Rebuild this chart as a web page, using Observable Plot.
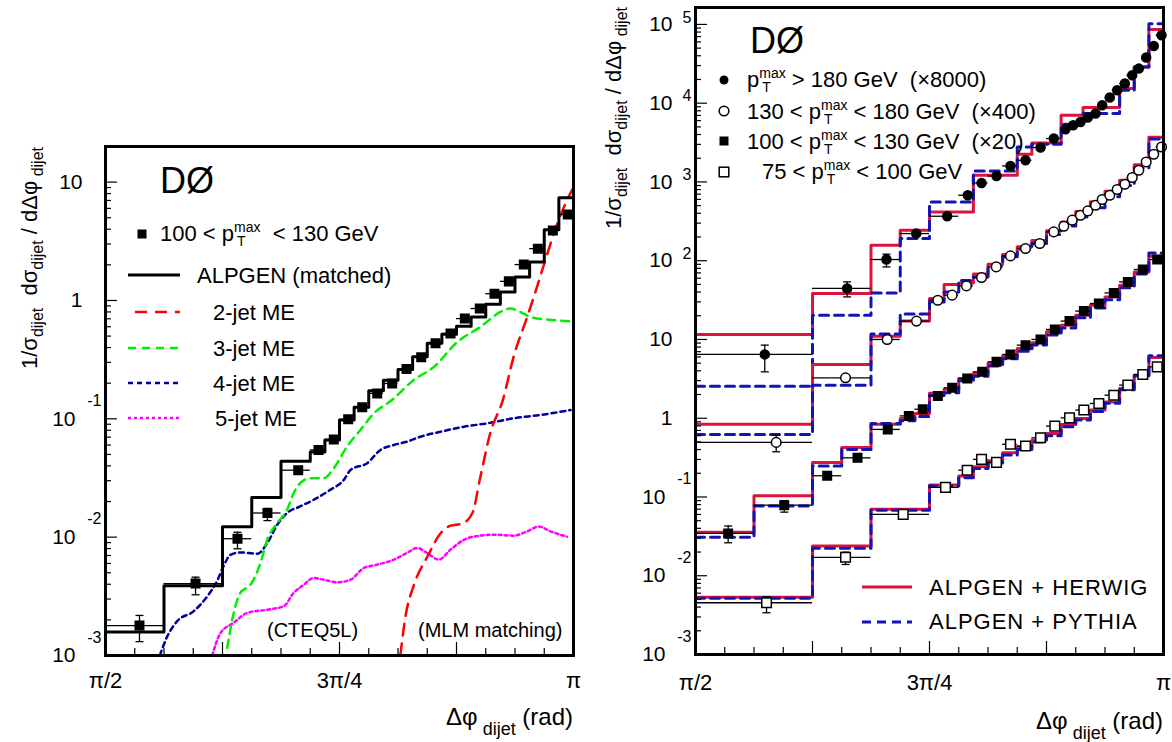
<!DOCTYPE html>
<html>
<head>
<meta charset="utf-8">
<script src="https://cdn.jsdelivr.net/npm/d3@7"></script>
<script src="https://cdn.jsdelivr.net/npm/@observablehq/plot@0.6"></script>
<style>
  body { margin: 0; background: #fff; }
  #wrap { position: relative; width: 1172px; height: 742px; overflow: hidden; }
  #wrap svg { position: absolute; top: 0; }
</style>
</head>
<body>
<div id="wrap"></div>
<script>
const FONT = "'Liberation Sans', Arial, Helvetica, sans-serif";

// ---------- x positions: Δφ/π ; bin edges are in units of π/64 counted from π/2 ----------
const xTickLabels = [{u: 0.5, t: "π/2"}, {u: 0.75, t: "3π/4"}, {u: 1, t: "π"}];

// ================= LEFT PANEL: 100 < pT^max < 130 GeV =================
const leftEdges = [0,4,8,10,12,14,15,16,17,18,19,20,21,22,23,24,25,26,27,28,29,30,31,32];
const leftDataU = [0.5363,0.5962,0.641,0.673,0.7059,0.7276,0.7439,0.7593,0.7743,0.7903,0.8063,0.8216,0.8373,0.8526,0.8686,0.8839,0.8999,0.9156,0.9309,0.9469,0.9619,0.9779,0.9939];
const leftDataV = [1.79e-3,4.05e-3,9.7e-3,0.016,0.0368,0.0546,0.067,0.099,0.125,0.164,0.199,0.263,0.331,0.434,0.526,0.703,0.855,1.14,1.45,2.01,2.74,3.91,5.33];
const leftErrLo = [1.31e-3,3.26e-3,7.98e-3,0.0138];
const leftErrHi = [2.18e-3,4.59e-3,0.0110,0.0175];
const alpgenMatched = [1.58e-3,3.89e-3,0.01225,0.0216,0.0439,0.0525,0.0662,0.0977,0.125,0.173,0.212,0.261,0.334,0.434,0.519,0.605,0.726,0.929,1.18,1.58,2.11,3.96,7.38];

const me2U = [0.815,0.8205,0.829,0.844,0.858,0.8686,0.881,0.892,0.9006,0.911,0.9245,0.936,0.9505,0.961,0.972,0.9826,0.993,0.9986];
const me2V = [1.0e-3,2.14e-3,3.84e-3,6.87e-3,0.0108,0.0125,0.0130,0.0160,0.0325,0.0755,0.144,0.334,0.726,1.30,2.48,4.45,7.0,8.66];
const me3U = [0.630,0.637,0.644,0.655,0.6656,0.6728,0.6834,0.694,0.701,0.708,0.719,0.733,0.744,0.758,0.7724,0.7866,0.806,0.829,0.851,0.876,0.9006,0.922,0.9327,0.943,0.954,0.972,0.9968];
const me3V = [1.16e-3,2.29e-3,3.38e-3,3.97e-3,6.05e-3,9.5e-3,0.01315,0.0170,0.0235,0.0286,0.0315,0.0315,0.0383,0.0582,0.0805,0.111,0.144,0.212,0.275,0.447,0.598,0.80,0.855,0.80,0.726,0.690,0.668];
const me4U = [0.558,0.566,0.5766,0.594,0.6087,0.619,0.626,0.6335,0.644,0.662,0.6728,0.6834,0.694,0.708,0.7225,0.740,0.7546,0.7618,0.7796,0.7938,0.808,0.822,0.8365,0.858,0.883,0.908,0.936,0.9647,0.9968];
const me4V = [1.0e-3,1.45e-3,1.95e-3,2.36e-3,3.16e-3,4.23e-3,5.66e-3,7.1e-3,7.43e-3,7.24e-3,8.9e-3,0.0127,0.0160,0.0182,0.0207,0.0251,0.0305,0.037,0.0422,0.0546,0.0601,0.0641,0.0706,0.0778,0.0858,0.0916,0.101,0.1077,0.1186];
const me5U = [0.614,0.6229,0.637,0.6514,0.6728,0.6905,0.701,0.712,0.7225,0.733,0.7475,0.7618,0.776,0.790,0.808,0.822,0.833,0.8437,0.856,0.8686,0.883,0.9006,0.915,0.936,0.9505,0.963,0.9754,0.993];
const me5V = [1.0e-3,1.55e-3,1.89e-3,2.29e-3,2.44e-3,2.61e-3,3.38e-3,3.97e-3,4.52e-3,4.37e-3,4.15e-3,4.37e-3,5.49e-3,5.85e-3,6.45e-3,7.35e-3,8.09e-3,7.35e-3,6.45e-3,7.83e-3,9.5e-3,0.0103,0.0105,0.0103,0.0112,0.0123,0.0112,0.0101];

// ================= RIGHT PANEL =================
// pT > 180 GeV (x8000)
const s1Edges = [0,8,12,14,16,18,19,20,21,22,23,24,25,25.5,26,26.5,27,27.5,28,28.5,29,29.5,30,30.5,31,31.5,32];
const s1U = [0.574,0.662,0.704,0.7358,0.7689,0.7909,0.8056,0.8216,0.8365,0.8526,0.8686,0.8828,0.8953,0.9035,0.9113,0.9191,0.9274,0.9345,0.9426,0.9505,0.9587,0.9666,0.9736,0.9815,0.9896,0.9979];
const s1V = [6.46,44.4,103.5,221,367,678,971,1191,1597,1884,2733,3556,4666,5245,5773,6565,7379,9400,11780,14580,17740,22600,27480,37930,53200,72740];
const s1ErrLo = [3.88,34.7,83.4];
const s1ErrHi = [8.47,53.8,121];
const s1McEdges = [0,8,12,14,16,19,22,23,25,26.5,29,30,31,32];
const s1Herwig = [11.6,38.4,157,244,416,1216,2248,3126,7015,8790,15310,28770,85900];
const s1Pythia = [2.55,20.3,39.0,191,557,1380,2780,3000,5400,7380,14580,28770,102000];

// 130 < pT < 180 GeV (x400)
const s2Edges = [0,8,12,14,16,17,18,19,20,21,22,23,24,25,25.5,26,26.5,27,27.5,28,28.5,29,29.5,30,30.5,31,31.5,32];
const s2U = [0.5862,0.6603,0.7048,0.7361,0.7589,0.7742,0.7895,0.8056,0.8213,0.8365,0.8526,0.8678,0.8828,0.8935,0.9025,0.9113,0.9191,0.9274,0.9345,0.9426,0.9505,0.9587,0.9666,0.9736,0.9815,0.9896,0.9979];
const s2V = [0.493,3.26,10.0,17.1,31.5,36.5,47.9,61.2,83.4,115,143,165,232,274,327,378,429,506,598,678,801,935,1137,1407,1794,2248,2780];
const s2ErrLo = [0.375];
const s2ErrHi = [0.611];
const s2McEdges = [0,8,12,14,16,17,18,19,20,21,22,23,24,25,26,27,28,29,30,31,32];
const s2Herwig = [0.84,4.82,11.0,17.2,33,50,52,68,90,120,150,180,240,310,420,560,760,1050,1650,3700];
const s2Pythia = [0.622,2.63,11.7,21.0,30,40,56,62,85,112,140,165,215,275,360,470,650,900,1500,3500];

// 100 < pT < 130 GeV (x20)
const s3Edges = [0,4,8,10,12,14,15,16,17,18,19,20,21,22,23,24,25,26,27,28,29,30,31,32];
const s3U = [0.5349,0.5948,0.6407,0.6731,0.7054,0.7279,0.7428,0.7589,0.7742,0.7903,0.8063,0.8216,0.8365,0.8526,0.8686,0.8839,0.8996,0.9149,0.9309,0.9469,0.9619,0.9779,0.9933];
const s3V = [0.0345,0.0788,0.186,0.314,0.721,1.07,1.30,1.92,2.43,3.20,3.88,5.20,6.45,8.47,10.0,13.4,17.1,22.9,28.6,39.0,53.8,77.3,103.5];
const s3ErrLo = [0.0262,0.0642];
const s3ErrHi = [0.0428,0.0901];
const s3Herwig = [0.0356,0.1035,0.275,0.426,0.841,0.99,1.15,2.07,2.33,3.2,3.7,4.96,6.14,7.69,9.06,12.5,15.2,20.3,27.2,34.7,48.9,72.1,114];
const s3Pythia = [0.0307,0.0767,0.247,0.402,0.859,0.93,1.05,1.95,2.1,3.0,3.4,4.6,5.7,7.1,8.5,11.4,14.0,18.8,25.0,32.0,45.5,68.0,125];

// 75 < pT < 100 GeV (x1)
const s4Edges = [0,8,12,16,18,19,20,21,22,23,24,25,26,27,28,29,30,31,32];
const s4U = [0.5759,0.6603,0.7219,0.7671,0.7903,0.8056,0.8216,0.8365,0.8526,0.8686,0.8839,0.8996,0.9149,0.9309,0.9469,0.9619,0.9779,0.9933];
const s4V = [4.54e-3,0.01714,0.0601,0.1324,0.219,0.300,0.275,0.466,0.443,0.564,0.794,1.01,1.27,1.54,1.96,2.63,3.59,4.49];
const s4ErrLo = [3.39e-3,0.0139];
const s4ErrHi = [5.42e-3,0.0199];
const s4Herwig = [5.32e-3,0.0238,0.0697,0.1416,0.184,0.242,0.288,0.364,0.434,0.527,0.641,0.834,0.99,1.27,1.61,2.39,3.52,5.91];
const s4Pythia = [5.16e-3,0.0223,0.068,0.138,0.175,0.23,0.27,0.34,0.40,0.50,0.60,0.78,0.95,1.22,1.55,2.30,3.45,6.2];

// ---------- helpers ----------
const toU = k => 0.5 + k / 64;
function steps(edges, vals) {
  const out = [];
  vals.forEach((v, i) => { out.push({u: toU(edges[i]), v}); out.push({u: toU(edges[i + 1]), v}); });
  return out;
}
function pts(us, vs, edges, lo = [], hi = []) {
  return us.map((u, i) => ({u, v: vs[i], lo: toU(edges[i]), hi: toU(edges[i + 1]), elo: lo[i], ehi: hi[i]}));
}
const curve = (us, vs) => us.map((u, i) => ({u, v: vs[i]}));
const capSymbol = {draw(ctx, size) { const r = Math.sqrt(size / Math.PI); ctx.moveTo(-r, 0); ctx.lineTo(r, 0); }};

const xMajor = d3.range(0, 5).map(i => 0.5 + i / 8);
const xMinor = d3.range(0, 17).map(i => 0.5 + i / 32).filter(u => Math.abs(u * 8 - Math.round(u * 8)) > 1e-9);
function yTicks(e0, e1, top) {
  const maj = [], min = [];
  for (let e = e0; e <= e1; e++) {
    maj.push(10 ** e);
    for (let m = 2; m <= 9; m++) if (m * 10 ** e <= top) min.push(m * 10 ** e);
  }
  return {maj: maj.filter(v => v <= top), min};
}

function frameMarks(ymin, top, decs, xlabDy) {
  const yt = yTicks(-3, decs[decs.length - 1], top);
  const base = {stroke: "black", strokeWidth: 1.2, tickFormat: () => ""};
  return [
    Plot.axisX({...base, ticks: xMajor, tickSize: -13}),
    Plot.axisX({...base, ticks: xMinor, tickSize: -7}),
    Plot.axisY({...base, ticks: yt.maj, tickSize: -12}),
    Plot.axisY({...base, ticks: yt.min, tickSize: -6}),
    Plot.frame({stroke: "black", strokeWidth: 3}),
    Plot.text(xTickLabels, {x: "u", y: () => ymin, text: "t", dy: xlabDy, fontSize: 22}),
    Plot.text(decs.filter(e => e === 0 || e === 1), {x: () => 0.5, y: e => 10 ** e, text: e => e === 0 ? "1" : "10", textAnchor: "end", dx: -23, fontSize: 21}),
    Plot.text(decs.filter(e => e > 1), {x: () => 0.5, y: e => 10 ** e, text: () => "10", textAnchor: "end", dx: -23, fontSize: 21}),
    Plot.text(decs.filter(e => e > 1), {x: () => 0.5, y: e => 10 ** e, text: e => String(e), textAnchor: "start", dx: -13, dy: -7, fontSize: 16}),
    Plot.text(decs.filter(e => e < 0), {x: () => 0.5, y: e => 10 ** e, text: () => "10", textAnchor: "end", dx: -30, fontSize: 21}),
    Plot.text(decs.filter(e => e < 0), {x: () => 0.5, y: e => 10 ** e, text: e => String(e), textAnchor: "end", dx: -4, dy: -18, fontSize: 16})
  ];
}

function dataMarks(p, symbol, fill, r) {
  const withErr = p.filter(d => d.elo != null);
  return [
    Plot.ruleY(p, {y: "v", x1: "lo", x2: "hi", stroke: "black", strokeWidth: 1.3}),
    Plot.ruleX(withErr, {x: "u", y1: "elo", y2: "ehi", stroke: "black", strokeWidth: 1.3}),
    Plot.dot(withErr, {x: "u", y: "elo", symbol: capSymbol, r: 4, stroke: "black", strokeWidth: 1.3}),
    Plot.dot(withErr, {x: "u", y: "ehi", symbol: capSymbol, r: 4, stroke: "black", strokeWidth: 1.3}),
    Plot.dot(p, {x: "u", y: "v", symbol, r, fill, stroke: "black", strokeWidth: 1.5})
  ];
}

const wrap = document.getElementById("wrap");

// ---------- LEFT ----------
const leftPts = pts(leftDataU, leftDataV, leftEdges, leftErrLo, leftErrHi);
const left = Plot.plot({
  width: 590, height: 742,
  marginLeft: 105, marginRight: 17, marginTop: 146, marginBottom: 87,
  style: {fontFamily: FONT, background: "transparent", color: "black"},
  x: {domain: [0.5, 1]},
  y: {type: "log", domain: [1e-3, 20]},
  marks: [
    Plot.line(curve(me5U, me5V), {x: "u", y: "v", stroke: "#ff00ff", strokeWidth: 2.5, strokeDasharray: "3,3", curve: "monotone-x", clip: true}),
    Plot.line(curve(me4U, me4V), {x: "u", y: "v", stroke: "#0000a0", strokeWidth: 2.5, strokeDasharray: "5,4", curve: "monotone-x", clip: true}),
    Plot.line(curve(me3U, me3V), {x: "u", y: "v", stroke: "#00ee00", strokeWidth: 2.5, strokeDasharray: "8,6", curve: "monotone-x", clip: true}),
    Plot.line(curve(me2U, me2V), {x: "u", y: "v", stroke: "#ff0000", strokeWidth: 2.5, strokeDasharray: "12,8", curve: "monotone-x", clip: true}),
    Plot.line(steps(leftEdges, alpgenMatched), {x: "u", y: "v", stroke: "black", strokeWidth: 3, clip: true}),
    ...dataMarks(leftPts, "square", "black", 4.8),
    ...frameMarks(1e-3, 20, [-3, -2, -1, 0, 1], 25)
  ]
});
left.style.left = "0px";
wrap.appendChild(left);

// ---------- RIGHT ----------
const right = Plot.plot({
  width: 582, height: 742,
  marginLeft: 105, marginRight: 9, marginTop: 7, marginBottom: 88,
  style: {fontFamily: FONT, background: "transparent", color: "black"},
  x: {domain: [0.5, 1]},
  y: {type: "log", domain: [1e-3, 1.64e5]},
  marks: [
    ...[[s1McEdges, s1Herwig, s1Pythia], [s2McEdges, s2Herwig, s2Pythia], [s3Edges, s3Herwig, s3Pythia], [s4Edges, s4Herwig, s4Pythia]].flatMap(([e, h, p]) => [
      Plot.line(steps(e, h), {x: "u", y: "v", stroke: "#dc143c", strokeWidth: 3, clip: true}),
      Plot.line(steps(e, p), {x: "u", y: "v", stroke: "#1414b4", strokeWidth: 3, strokeDasharray: "9,6", clip: true})
    ]),
    ...dataMarks(pts(s1U, s1V, s1Edges, s1ErrLo, s1ErrHi), "circle", "black", 4.5),
    ...dataMarks(pts(s2U, s2V, s2Edges, s2ErrLo, s2ErrHi), "circle", "white", 4.8),
    ...dataMarks(pts(s3U, s3V, s3Edges, s3ErrLo, s3ErrHi), "square", "black", 4.8),
    ...dataMarks(pts(s4U, s4V, s4Edges, s4ErrLo, s4ErrHi), "square", "white", 5.4),
    ...frameMarks(1e-3, 1.64e5, [-3, -2, -1, 0, 1, 2, 3, 4, 5], 28)
  ]
});
right.style.left = "590px";
wrap.appendChild(right);

// ---------- rich text helper (sub/superscripts) ----------
function rich(svg, x, y, parts, {anchor = "start", rotate = 0, size = 20, spacing = 0} = {}) {
  const g = d3.select(svg).append("g").attr("font-family", FONT).attr("fill", "black")
    .attr("text-anchor", "start").style("text-anchor", "start");
  const inner = g.append("g");
  let cx = 0, ls = 0, le = 0;
  for (const p of parts) {
    const fs = p.s ?? size;
    const t = inner.append("text").attr("font-size", fs).attr("y", p.dy ?? 0)
      .attr("text-anchor", "start").attr("xml:space", "preserve").style("white-space", "pre")
      .attr("letter-spacing", spacing).text(p.t);
    const w = t.node().getComputedTextLength();
    if (p.stack) { t.attr("x", ls + (p.dx ?? 0)); le = Math.max(le, ls + (p.dx ?? 0) + w); cx = le; }
    else { const sx = cx + (p.dx ?? 0); t.attr("x", sx); ls = sx; le = sx + w; cx = le; }
  }
  const shift = anchor === "end" ? -cx : anchor === "middle" ? -cx / 2 : 0;
  inner.attr("transform", `translate(${shift},0)`);
  g.attr("transform", `translate(${x},${y}) rotate(${rotate})`);
}
const ptmax = [{t: "p"}, {t: "max", s: 14, dy: -9}, {t: "T", s: 14, dy: 5, stack: true, dx: 3}];
const yTitle = [{t: "1/σ"}, {t: "dijet", s: 16, dy: 6}, {t: "  dσ"}, {t: "dijet", s: 16, dy: 6}, {t: " / dΔφ"}, {t: " dijet", s: 16, dy: 6}];
const xTitle = [{t: "Δφ"}, {t: " dijet", s: 18, dy: 10}, {t: " (rad)"}];

function swatchLine(svg, x1, x2, y, color, width, dash) {
  d3.select(svg).append("line").attr("x1", x1).attr("x2", x2).attr("y1", y).attr("y2", y)
    .attr("stroke", color).attr("stroke-width", width).attr("stroke-dasharray", dash || null);
}
function swatchMarker(svg, x, y, kind) {
  const s = d3.select(svg);
  if (kind === "fc") s.append("circle").attr("cx", x).attr("cy", y).attr("r", 4.5).attr("fill", "black");
  if (kind === "oc") s.append("circle").attr("cx", x).attr("cy", y).attr("r", 4.8).attr("fill", "white").attr("stroke", "black").attr("stroke-width", 1.5);
  if (kind === "fs") s.append("rect").attr("x", x - 4.5).attr("y", y - 4.5).attr("width", 9).attr("height", 9).attr("fill", "black");
  if (kind === "os") s.append("rect").attr("x", x - 4.8).attr("y", y - 4.8).attr("width", 9.6).attr("height", 9.6).attr("fill", "white").attr("stroke", "black").attr("stroke-width", 1.5);
}

// ---------- left annotations ----------
rich(left, 160, 193, [{t: "DØ"}], {size: 36});
swatchMarker(left, 142, 234, "fs");
rich(left, 160, 241, [{t: "100 < "}, ...ptmax, {t: "  < 130 GeV"}], {size: 22});
swatchLine(left, 128, 180, 275, "black", 3);
rich(left, 197, 283, [{t: "ALPGEN (matched)"}], {size: 22});
swatchLine(left, 135, 180, 312, "#ff0000", 2.5, "12,8");
rich(left, 213, 320, [{t: "2-jet ME"}], {size: 22});
swatchLine(left, 128, 180, 348, "#00ee00", 2.5, "8,6");
rich(left, 213, 356, [{t: "3-jet ME"}], {size: 22});
swatchLine(left, 128, 180, 383, "#0000a0", 2.5, "5,4");
rich(left, 213, 391, [{t: "4-jet ME"}], {size: 22});
swatchLine(left, 128, 180, 418, "#ff00ff", 2.5, "3,3");
rich(left, 215, 426, [{t: "5-jet ME"}], {size: 22});
rich(left, 267, 637, [{t: "(CTEQ5L)"}]);
rich(left, 418, 637, [{t: "(MLM matching)"}]);
rich(left, 573, 725, xTitle, {anchor: "end", size: 24});
rich(left, 37, 147, yTitle, {anchor: "end", rotate: -90, size: 22});

// ---------- right annotations (panel coordinates) ----------
const R = 590;
rich(right, 750 - R, 53, [{t: "DØ"}], {size: 36});
swatchMarker(right, 724 - R, 80, "fc");
rich(right, 747 - R, 87, [...ptmax, {t: " > 180 GeV  (×8000)"}], {size: 22});
swatchMarker(right, 724 - R, 111, "oc");
rich(right, 747 - R, 119, [{t: "130 < "}, ...ptmax, {t: " < 180 GeV  (×400)"}], {size: 22});
swatchMarker(right, 724 - R, 141, "fs");
rich(right, 747 - R, 149, [{t: "100 < "}, ...ptmax, {t: " < 130 GeV  (×20)"}], {size: 22});
swatchMarker(right, 724 - R, 172, "os");
rich(right, 762 - R, 179, [{t: "75 < "}, ...ptmax, {t: " < 100 GeV"}], {size: 22});
swatchLine(right, 862 - R, 912 - R, 587, "#dc143c", 3);
rich(right, 929 - R, 595, [{t: "ALPGEN + HERWIG"}], {size: 22, spacing: 1});
swatchLine(right, 862 - R, 912 - R, 622, "#1414b4", 3, "9,6");
rich(right, 929 - R, 629, [{t: "ALPGEN + PYTHIA"}], {size: 22, spacing: 1});
rich(right, 1163 - R, 729, xTitle, {anchor: "end", size: 24});
rich(right, 621 - R, 7, yTitle, {anchor: "end", rotate: -90, size: 22});
</script>
</body>
</html>
